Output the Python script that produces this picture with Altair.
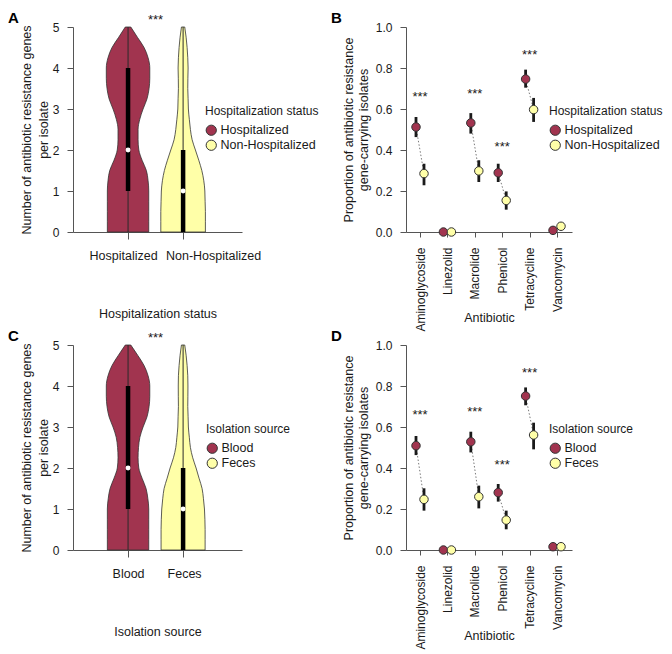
import altair as alt
import pandas as pd

FONT = "Liberation Sans"
MAROON = "#A1344F"
YELLOW = "#FFFFA8"
OUTLINE = "#333333"
AXIS_GREY = "#555555"
TEXT = "#1a1a1a"

# ---------------- Panels A / C : violin plots ----------------
levels = [0.0, 0.25, 0.5, 0.75, 1.0, 1.25, 1.5, 1.75, 2.0, 2.25, 2.5,
          2.75, 3.0, 3.25, 3.5, 3.75, 4.0, 4.25, 4.5, 4.75, 5.0]

hosp_width = [0.376, 0.376, 0.376, 0.376, 0.376, 0.364, 0.333, 0.255, 0.196, 0.182, 0.182,
              0.213, 0.273, 0.345, 0.382, 0.395, 0.395, 0.364, 0.291, 0.170, 0.05]
nonhosp_width = [0.405, 0.405, 0.405, 0.400, 0.395, 0.376, 0.340, 0.285, 0.224, 0.164, 0.133,
                 0.113, 0.096, 0.091, 0.085, 0.087, 0.091, 0.085, 0.073, 0.055, 0.03]
blood_width = [0.376, 0.376, 0.376, 0.376, 0.376, 0.360, 0.327, 0.255, 0.195, 0.182, 0.190,
               0.215, 0.273, 0.345, 0.382, 0.395, 0.395, 0.364, 0.291, 0.175, 0.05]
feces_width = [0.400, 0.400, 0.400, 0.396, 0.388, 0.370, 0.345, 0.290, 0.236, 0.175, 0.133,
               0.113, 0.096, 0.091, 0.085, 0.087, 0.088, 0.085, 0.073, 0.055, 0.03]

groups_A = ["Hospitalized", "Non-Hospitalized"]
groups_C = ["Blood", "Feces"]
whisker_lo = [0, 0]
whisker_hi = [5, 5]
quart1 = [1, 0]
quart3 = [4, 2]
medians = [2, 1]
star_violin = 5.18

# ---------------- Panels B / D : proportions ----------------
antibiotics = ["Aminoglycoside", "Linezolid", "Macrolide", "Phenicol", "Tetracycline", "Vancomycin"]

hosp_prop = [0.512, 0.0, 0.532, 0.289, 0.746, 0.008]
hosp_lo = [0.463, 0.0, 0.480, 0.244, 0.704, 0.0]
hosp_hi = [0.561, 0.0, 0.580, 0.333, 0.792, 0.02]
nonhosp_prop = [0.285, 0.0, 0.298, 0.154, 0.597, 0.028]
nonhosp_lo = [0.228, 0.0, 0.244, 0.109, 0.537, 0.015]
nonhosp_hi = [0.333, 0.0, 0.350, 0.198, 0.654, 0.042]
stars_B = [0.659, None, 0.675, 0.415, 0.865, None]

blood_prop = [0.509, 0.0, 0.528, 0.280, 0.751, 0.016]
blood_lo = [0.463, 0.0, 0.476, 0.236, 0.706, 0.005]
blood_hi = [0.556, 0.0, 0.577, 0.322, 0.793, 0.03]
feces_prop = [0.247, 0.0, 0.260, 0.146, 0.561, 0.016]
feces_lo = [0.192, 0.0, 0.203, 0.101, 0.491, 0.008]
feces_hi = [0.301, 0.0, 0.314, 0.192, 0.621, 0.026]
stars_D = [0.659, None, 0.675, 0.415, 0.862, None]

DODGE = 0.146


def letter_layer(letter, dx):
    return alt.Chart(pd.DataFrame({"t": [letter]})).mark_text(
        align="left", baseline="top", fontSize=15, fontWeight="bold", font=FONT, color="black"
    ).encode(x=alt.value(dx), y=alt.value(-16), text="t:N")


def violin_panel(letter, groups, widths, x_title, legend_title, legend_x, label_shift):
    rows = []
    for i, g in enumerate(groups):
        for lv, w in zip(levels, widths[i]):
            rows.append({"group": g, "center": i + 1, "level": lv, "half": w})
    vdf = pd.DataFrame(rows)
    sdf = pd.DataFrame({"group": groups, "center": [1, 2], "lo": whisker_lo, "hi": whisker_hi,
                        "q1": quart1, "q3": quart3, "med": medians})
    tdf = pd.DataFrame({"x": [1.5], "y": [star_violin], "t": ["***"]})

    label_expr = "[" + ",".join(f"'{g}'" for g in groups) + "][datum.value - 1]"
    xs = alt.Scale(domain=[0, 3.07], nice=False, zero=False)
    ys = alt.Scale(domain=[0, 5], nice=False)
    xa = alt.Axis(values=[1, 2], labelExpr=label_expr, title=x_title, titleY=75,
                  domain=True, ticks=True, tickSize=7, labelPadding=10, labelAngle=0, labelFontSize=12.5,
                  labelOffset={"condition": {"test": "datum.value == 1", "value": label_shift[0]},
                               "value": label_shift[1]})
    ya = alt.Axis(values=[0, 1, 2, 3, 4, 5], title=["Number of antibiotic resistance genes", "per isolate"],
                  domain=True, ticks=True, tickSize=6, labelPadding=8, titleLineHeight=17, titlePadding=2)

    area = alt.Chart(vdf).transform_calculate(
        xl="datum.center - datum.half", xr="datum.center + datum.half"
    ).mark_area(orient="horizontal", interpolate="monotone", stroke=OUTLINE, strokeWidth=0.8, opacity=1).encode(
        y=alt.Y("level:Q", scale=ys, axis=ya),
        x=alt.X("xl:Q", scale=xs, axis=xa),
        x2="xr:Q",
        fill=alt.Fill("group:N", scale=alt.Scale(domain=groups, range=[MAROON, YELLOW]),
                      title=legend_title,
                      legend=alt.Legend(orient="none", legendX=legend_x, legendY=79)),
    )
    thin = alt.Chart(sdf).mark_rule(color="#2b2b2b", strokeWidth=1).encode(
        x=alt.X("center:Q", scale=xs, axis=xa), y=alt.Y("lo:Q", scale=ys, axis=ya), y2="hi:Q")
    thick = alt.Chart(sdf).mark_rule(color="black", strokeWidth=4.5).encode(
        x=alt.X("center:Q", scale=xs, axis=xa), y=alt.Y("q1:Q", scale=ys, axis=ya), y2="q3:Q")
    med = alt.Chart(sdf).mark_circle(color="white", size=24, opacity=1).encode(
        x=alt.X("center:Q", scale=xs, axis=xa), y=alt.Y("med:Q", scale=ys, axis=ya))
    stars = alt.Chart(tdf).mark_text(fontSize=13, font=FONT, color=TEXT, baseline="middle").encode(
        x=alt.X("x:Q", scale=xs, axis=xa), y=alt.Y("y:Q", scale=ys, axis=ya), text="t:N")
    return alt.layer(area, thin, thick, med, stars, letter_layer(letter, -65)).properties(width=169, height=205)


def dot_panel(letter, groups, p1, lo1, hi1, p2, lo2, hi2, stars, legend_title, legend_x):
    rows, pairs, srows = [], [], []
    for i, ab in enumerate(antibiotics):
        c = i + 1
        rows.append({"ab": ab, "group": groups[0], "pos": c - DODGE, "p": p1[i], "lo": lo1[i], "hi": hi1[i]})
        rows.append({"ab": ab, "group": groups[1], "pos": c + DODGE, "p": p2[i], "lo": lo2[i], "hi": hi2[i]})
        pairs.append({"x1": c - DODGE, "x2": c + DODGE, "y1": p1[i], "y2": p2[i]})
        if stars[i] is not None:
            srows.append({"x": c, "y": stars[i], "t": "***"})
    df = pd.DataFrame(rows)
    pdf = pd.DataFrame(pairs)
    sdf = pd.DataFrame(srows)

    label_expr = "[" + ",".join(f"'{a}'" for a in antibiotics) + "][datum.value - 1]"
    xs = alt.Scale(domain=[0.489, 6.547], nice=False, zero=False)
    ys = alt.Scale(domain=[0, 1], nice=False)
    xa = alt.Axis(values=[1, 2, 3, 4, 5, 6], labelExpr=label_expr, title="Antibiotic", titleY=79,
                  domain=True, ticks=True, tickSize=5, labelPadding=10, labelAngle=-90)
    ya = alt.Axis(values=[0, 0.2, 0.4, 0.6, 0.8, 1.0], format=".1f",
                  title=["Proportion of antibiotic resistance", "gene-carrying isolates"],
                  domain=True, ticks=True, tickSize=6, labelPadding=8, titleLineHeight=15, titlePadding=5)

    link = alt.Chart(pdf).mark_rule(color="#7a7a7a", strokeWidth=1, strokeDash=[1.5, 2]).encode(
        x=alt.X("x1:Q", scale=xs, axis=xa), x2="x2:Q", y=alt.Y("y1:Q", scale=ys, axis=ya), y2="y2:Q")
    err = alt.Chart(df).mark_rule(color="#1a1a1a", strokeWidth=2.8).encode(
        x=alt.X("pos:Q", scale=xs, axis=xa), y=alt.Y("lo:Q", scale=ys, axis=ya), y2="hi:Q")
    pts = alt.Chart(df).mark_circle(size=72, opacity=1, stroke=OUTLINE, strokeWidth=1).encode(
        x=alt.X("pos:Q", scale=xs, axis=xa), y=alt.Y("p:Q", scale=ys, axis=ya),
        fill=alt.Fill("group:N", scale=alt.Scale(domain=groups, range=[MAROON, YELLOW]),
                      title=legend_title,
                      legend=alt.Legend(orient="none", legendX=legend_x, legendY=79)),
    )
    st = alt.Chart(sdf).mark_text(fontSize=13, font=FONT, color=TEXT, baseline="middle").encode(
        x=alt.X("x:Q", scale=xs, axis=xa), y=alt.Y("y:Q", scale=ys, axis=ya), text="t:N")
    return alt.layer(link, err, pts, st, letter_layer(letter, -75)).properties(width=166, height=205)


panel_A = violin_panel("A", groups_A, [hosp_width, nonhosp_width], "Hospitalization status",
                       "Hospitalization status", 132, [-5, 30])
panel_B = dot_panel("B", groups_A, hosp_prop, hosp_lo, hosp_hi, nonhosp_prop, nonhosp_lo, nonhosp_hi,
                    stars_B, "Hospitalization status", 143)
panel_C = violin_panel("C", groups_C, [blood_width, feces_width], "Isolation source",
                       "Isolation source", 133, [0, 1])
panel_D = dot_panel("D", groups_C, blood_prop, blood_lo, blood_hi, feces_prop, feces_lo, feces_hi,
                    stars_D, "Isolation source", 143)

chart = alt.concat(panel_A, panel_B, panel_C, panel_D, columns=2).properties(
    spacing=alt.RowColnumber(row=113, column=164), bounds="flush",
    padding={"top": 3, "left": 0, "right": 0, "bottom": 0}
).resolve_scale(
    x="independent", y="independent", fill="independent"
).resolve_legend(fill="independent").configure(font=FONT).configure_view(stroke=None).configure_axis(
    grid=False, domain=True, ticks=True, labelFont=FONT, titleFont=FONT, labelFontSize=12,
    titleFontSize=12.5, titleFontWeight="normal", domainColor=AXIS_GREY, tickColor=AXIS_GREY,
    labelColor=TEXT, titleColor=TEXT, domainWidth=1, tickWidth=1
).configure_legend(
    titleFont=FONT, labelFont=FONT, titleFontSize=12, titleFontWeight="normal", labelFontSize=12.5,
    symbolType="circle", symbolSize=105, symbolStrokeColor=OUTLINE, symbolStrokeWidth=1,
    rowPadding=0, titlePadding=6, labelOffset=3, titleColor=TEXT, labelColor=TEXT, symbolOpacity=1
)

chart.save("out.html", embed_options={"renderer": "svg", "actions": False})
